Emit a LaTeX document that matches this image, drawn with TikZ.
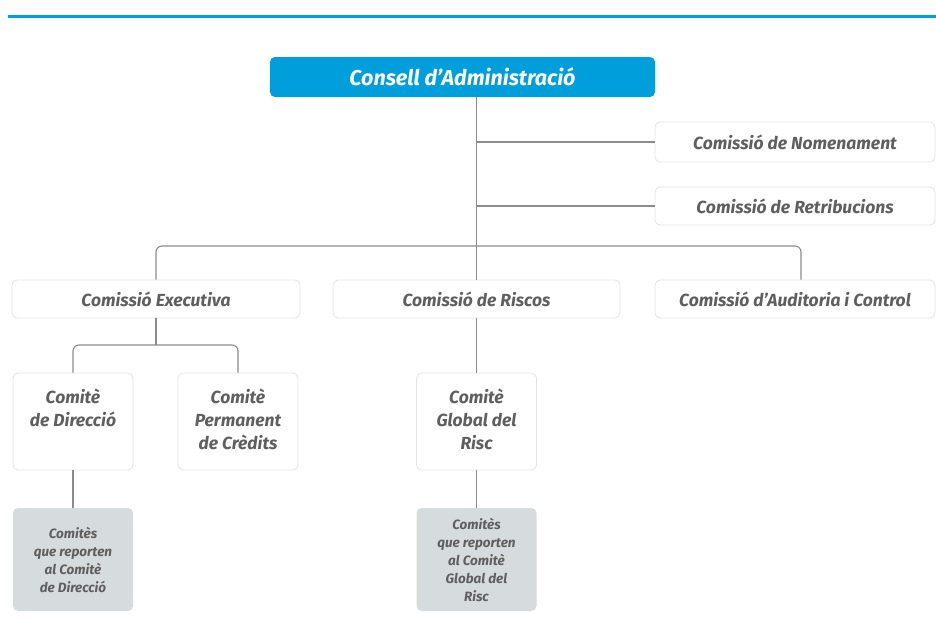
\documentclass[tikz,border=0pt]{standalone}
\usepackage{fontspec}
\setmainfont{Fira Sans}
\definecolor{blau}{RGB}{0,158,219}
\definecolor{vora}{RGB}{228,228,228}
\definecolor{linia}{RGB}{140,140,140}
\definecolor{textgris}{RGB}{95,95,95}
\definecolor{fonsgris}{RGB}{214,219,222}
\begin{document}
\begin{tikzpicture}[x=1pt,y=-1pt,
		caixa/.style={draw=vora, line width=0.8pt, fill=white, rounded corners=5pt,
			text=textgris, font=\bfseries\itshape\fontsize{17.5}{23}\selectfont,
			minimum height=38pt, align=center},
		comite/.style={caixa, inner sep=0pt},
		reporta/.style={draw=none, fill=fonsgris, rounded corners=5pt, inner sep=0pt,
			text=textgris, font=\bfseries\itshape\fontsize{13.5}{18}\selectfont},
		connector/.style={draw=linia, line width=1.1pt, rounded corners=6pt}]
		\useasboundingbox (0,0) rectangle (936,640);

		% Ratlla blava superior
		\draw[blau, line width=3pt] (8,16) -- (936,16);

		% Consell
		\node[fill=blau, rounded corners=5pt, minimum width=385pt, minimum height=40pt,
			text=white, font=\bfseries\itshape\fontsize{21.5}{24}\selectfont]
			(consell) at (462.5,77) {Consell d'Administració};

		% Comissions
		\node[caixa, minimum width=280pt, minimum height=40pt] (nomen) at (795,142)
			{Comissió de Nomenament};
		\node[caixa, minimum width=280pt] (retrib) at (795,206)
			{Comissió de Retribucions};
		\node[caixa, minimum width=288pt] (exec) at (156,299) {Comissió Executiva};
		\node[caixa, minimum width=287pt] (riscos) at (476.5,299) {Comissió de Riscos};
		\node[caixa, minimum width=280pt] (audit) at (795,299)
			{Comissió d'Auditoria i Control};

		% Comitès
		\node[comite] (direccio) at (73,421.5)
			{\parbox[c][97pt][t]{120pt}{\centering\vspace{16pt}Comitè\\de Direcció}};
		\node[comite] (permanent) at (238,421.5)
			{\parbox[c][97pt][t]{120pt}{\centering\vspace{16pt}Comitè\\Permanent\\de Crèdits}};
		\node[comite] (global) at (476.5,421.5)
			{\parbox[c][97pt][t]{120pt}{\centering\vspace{16pt}Comitè\\Global del\\Risc}};

		% Comitès que reporten
		\node[reporta] (repdir) at (73,559.5)
			{\parbox[c][103pt][c]{120pt}{\centering Comitès\\que reporten\\al Comitè\\de Direcció}};
		\node[reporta] (repglobal) at (476.5,559.5)
			{\parbox[c][103pt][c]{120pt}{\centering Comitès\\que reporten\\al Comitè\\Global del\\Risc}};

		% Connexions
		\coordinate (tronc) at (consell.south -| riscos.north);
		\draw[connector] (tronc) -- (riscos.north);
		\draw[connector] (tronc |- nomen.west) -- (nomen.west);
		\draw[connector] (tronc |- retrib.west) -- (retrib.west);
		\draw[connector] (exec.north) |- (475.5,246) -| ([xshift=6pt]audit.north);
		\draw[connector] (exec.south) -- (156,345);
		\draw[connector] (direccio.north) |- (156,345) -| (permanent.north);
		\draw[connector] (riscos.south) -- (global.north);
		\draw[connector] (direccio.south) -- (repdir.north);
		\draw[connector] (global.south) -- (repglobal.north);
	\end{tikzpicture}
\end{document}
